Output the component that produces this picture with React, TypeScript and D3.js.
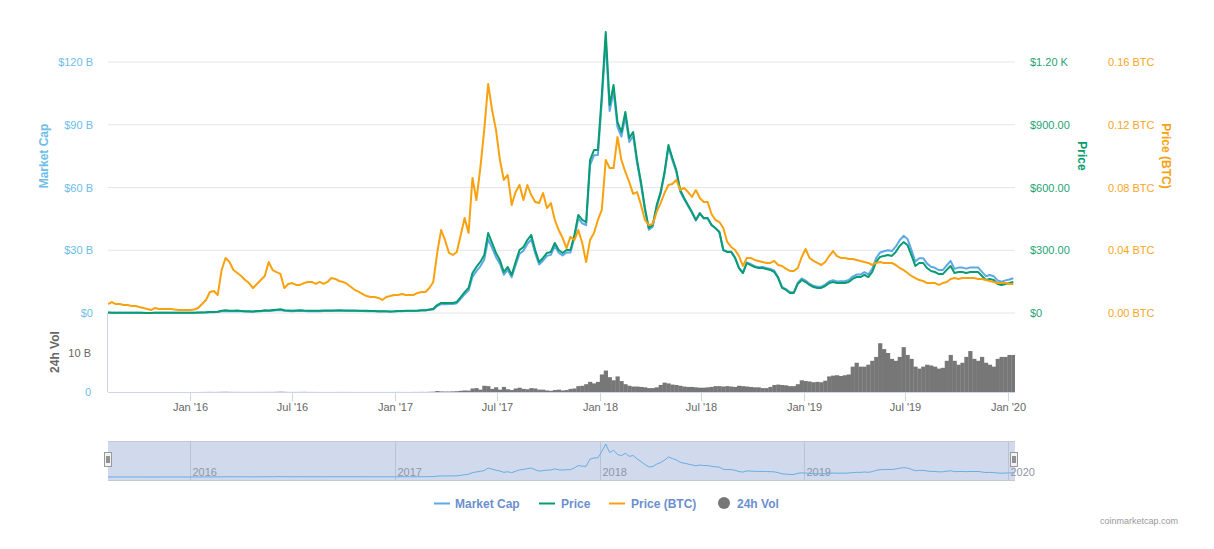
import React from 'react';
import * as d3 from 'd3';

// Weekly samples starting 2015-08-07
const START_DATE = '2015-08-07';

const priceUsd = [
  2.8, 1.2, 1.4, 1.2, 1.3, 1.2, 0.9, 0.9, 0.9, 0.7,
  0.6, 0.5, 1.0, 0.9, 0.9, 0.9, 0.9, 0.9, 0.9, 0.9,
  0.9, 0.95, 1.0, 1.8, 2.5, 3.5, 5, 4.5, 6.2, 11,
  13, 11, 11, 11.5, 10, 8.5, 8, 7.5, 9.5, 10,
  13, 12, 14, 16, 17.5, 13, 12, 11, 12, 13,
  11.5, 10.5, 11, 11, 11, 11.5, 12, 12, 12.5, 13,
  12.5, 12, 12, 11.5, 11, 11, 10.5, 10, 9.5, 8.5,
  8, 7.9, 7.5, 8, 10, 10, 10.5, 10.5, 11, 11.5,
  13, 13, 17, 20, 38, 48, 48, 48, 48, 53,
  76, 100, 120, 191, 220, 244, 277, 382, 335, 287,
  253, 196, 220, 182, 244, 301, 315, 349, 373, 301,
  244, 263, 287, 292, 335, 301, 287, 301, 301, 373,
  469, 445, 435, 731, 779, 779, 1042, 1343, 994, 1090,
  913, 865, 961, 837, 865, 731, 626, 502, 406, 421,
  516, 578, 674, 803, 741, 684, 588, 550, 516, 483,
  445, 478, 454, 454, 421, 406, 387, 301, 292, 292,
  263, 215, 191, 239, 229, 220, 215, 215, 210, 206,
  196, 167, 120, 110, 96, 96, 139, 158, 148, 134,
  124, 120, 120, 129, 143, 148, 143, 143, 143, 148,
  163, 172, 172, 182, 172, 196, 244, 268, 273, 277,
  273, 292, 320, 339, 325, 277, 225, 239, 239, 215,
  201, 196, 186, 186, 206, 225, 191, 196, 196, 191,
  196, 196, 196, 177, 158, 163, 158, 139, 134, 139,
  143, 148,
];

const marketCapB = [
  0.20, 0.09, 0.10, 0.09, 0.09, 0.09, 0.07, 0.07, 0.07, 0.05,
  0.04, 0.04, 0.07, 0.07, 0.07, 0.07, 0.07, 0.07, 0.07, 0.07,
  0.07, 0.07, 0.08, 0.14, 0.19, 0.27, 0.39, 0.35, 0.48, 0.86,
  1.01, 0.86, 0.86, 0.90, 0.78, 0.67, 0.63, 0.59, 0.75, 0.79,
  1.03, 0.95, 1.11, 1.27, 1.39, 1.04, 0.96, 0.88, 0.96, 1.04,
  0.93, 0.85, 0.89, 0.89, 0.89, 0.94, 0.98, 0.98, 1.02, 1.07,
  1.03, 0.99, 0.99, 0.95, 0.91, 0.92, 0.88, 0.84, 0.80, 0.72,
  0.68, 0.67, 0.64, 0.69, 0.86, 0.87, 0.91, 0.91, 0.96, 1.00,
  1.14, 1.14, 1.49, 1.67, 3.3, 4.2, 4.2, 4.3, 4.3, 4.7,
  6.8, 9.0, 10.8, 17.3, 20.0, 22.3, 25.5, 35.3, 31.1, 26.7,
  23.6, 18.3, 20.6, 17.1, 22.9, 28.3, 29.7, 33.0, 35.3, 28.5,
  23.2, 25.0, 27.3, 27.8, 32.0, 28.8, 27.5, 28.9, 28.9, 35.9,
  45.2, 42.9, 42.0, 70.7, 75.4, 75.5, 101.1, 130.4, 96.6, 106.0,
  88.9, 84.3, 93.8, 81.8, 84.6, 71.6, 61.3, 49.2, 39.8, 41.3,
  50.7, 56.9, 66.4, 79.2, 73.1, 67.6, 58.1, 54.4, 51.1, 47.9,
  44.2, 47.5, 45.2, 45.2, 42.0, 40.5, 38.7, 30.1, 29.3, 29.4,
  26.5, 21.7, 19.3, 24.2, 23.3, 22.4, 21.9, 22.0, 21.5, 21.1,
  20.2, 17.2, 12.4, 11.4, 9.9, 10.0, 14.5, 16.5, 15.5, 14.0,
  13.0, 12.6, 12.6, 13.6, 15.1, 15.7, 15.1, 15.2, 15.2, 15.8,
  17.4, 18.4, 18.4, 19.5, 18.5, 21.1, 26.3, 28.9, 29.5, 30.0,
  29.6, 31.7, 34.8, 36.9, 35.4, 30.2, 24.6, 26.2, 26.2, 23.6,
  22.1, 21.6, 20.5, 20.5, 22.7, 24.9, 21.1, 21.7, 21.7, 21.2,
  21.8, 21.8, 21.8, 19.7, 17.6, 18.2, 17.6, 15.5, 15.0, 15.6,
  16.0, 16.6,
];

const priceBtc = [
  0.0057, 0.0070, 0.0057, 0.0057, 0.0051, 0.0051, 0.0045, 0.0045, 0.0038, 0.0032,
  0.0026, 0.0019, 0.0032, 0.0026, 0.0026, 0.0026, 0.0026, 0.0022, 0.0019, 0.0019,
  0.0019, 0.0019, 0.0022, 0.0032, 0.0057, 0.0083, 0.0134, 0.0140, 0.0115, 0.0274,
  0.0351, 0.0325, 0.0274, 0.0255, 0.0236, 0.0210, 0.0191, 0.0159, 0.0185, 0.0210,
  0.0236, 0.0325, 0.0274, 0.0261, 0.0249, 0.0159, 0.0185, 0.0191, 0.0179, 0.0179,
  0.0191, 0.0198, 0.0198, 0.0185, 0.0198, 0.0185, 0.0198, 0.0223, 0.0217, 0.0204,
  0.0198, 0.0185, 0.0166, 0.0147, 0.0134, 0.0121, 0.0108, 0.0102, 0.0102, 0.0096,
  0.0083, 0.0102, 0.0108, 0.0115, 0.0115, 0.0121, 0.0115, 0.0115, 0.0115, 0.0128,
  0.0134, 0.0134, 0.0159, 0.0198, 0.0383, 0.0529, 0.0465, 0.0383, 0.0370, 0.0389,
  0.0497, 0.0606, 0.0510, 0.0861, 0.0720, 0.0924, 0.1167, 0.1460, 0.1294, 0.1167,
  0.0975, 0.0848, 0.0880, 0.0689, 0.0771, 0.0816, 0.0720, 0.0816, 0.0752, 0.0708,
  0.0701, 0.0765, 0.0669, 0.0701, 0.0593, 0.0529, 0.0478, 0.0414, 0.0485, 0.0465,
  0.0529, 0.0446, 0.0325, 0.0465, 0.0510, 0.0593, 0.0657, 0.0975, 0.0924, 0.0924,
  0.1122, 0.0975, 0.0899, 0.0835, 0.0759, 0.0771, 0.0689, 0.0593, 0.0561, 0.0567,
  0.0644, 0.0701, 0.0765, 0.0816, 0.0822, 0.0848, 0.0784, 0.0797, 0.0771, 0.0740,
  0.0784, 0.0733, 0.0708, 0.0708, 0.0631, 0.0593, 0.0580, 0.0542, 0.0453, 0.0421,
  0.0402, 0.0363, 0.0300, 0.0351, 0.0351, 0.0338, 0.0332, 0.0325, 0.0319, 0.0319,
  0.0332, 0.0306, 0.0300, 0.0281, 0.0268, 0.0268, 0.0287, 0.0357, 0.0408, 0.0351,
  0.0332, 0.0319, 0.0306, 0.0325, 0.0363, 0.0395, 0.0363, 0.0351, 0.0351, 0.0344,
  0.0344, 0.0338, 0.0332, 0.0325, 0.0319, 0.0306, 0.0319, 0.0325, 0.0319, 0.0319,
  0.0319, 0.0306, 0.0287, 0.0274, 0.0255, 0.0236, 0.0223, 0.0210, 0.0204, 0.0191,
  0.0191, 0.0191, 0.0179, 0.0191, 0.0198, 0.0217, 0.0223, 0.0217, 0.0223, 0.0223,
  0.0223, 0.0223, 0.0217, 0.0217, 0.0210, 0.0204, 0.0198, 0.0191, 0.0191, 0.0191,
  0.0185, 0.0185,
];

const volumeB = [
  0.001, 0.001, 0.001, 0.001, 0.001, 0.001, 0.001, 0.001, 0.001, 0.001,
  0.001, 0.001, 0.001, 0.001, 0.001, 0.001, 0.001, 0.001, 0.001, 0.001,
  0.002, 0.002, 0.003, 0.005, 0.01, 0.02, 0.03, 0.02, 0.03, 0.05,
  0.06, 0.04, 0.03, 0.03, 0.02, 0.02, 0.02, 0.02, 0.02, 0.02,
  0.03, 0.03, 0.03, 0.05, 0.08, 0.05, 0.02, 0.02, 0.02, 0.03,
  0.04, 0.02, 0.02, 0.01, 0.01, 0.01, 0.01, 0.01, 0.01, 0.02,
  0.02, 0.01, 0.01, 0.01, 0.01, 0.01, 0.01, 0.01, 0.01, 0.01,
  0.01, 0.01, 0.01, 0.01, 0.02, 0.01, 0.01, 0.01, 0.02, 0.02,
  0.03, 0.02, 0.05, 0.08, 0.25, 0.15, 0.12, 0.12, 0.15, 0.2,
  0.3, 0.4, 0.35, 0.9, 1.0, 0.6, 1.6, 1.5, 0.8, 1.2,
  0.6, 1.3, 0.7, 0.5, 0.9, 1.1, 0.8, 0.7, 1.0, 0.9,
  0.6, 0.6, 0.4, 0.3, 0.5, 0.6, 0.4, 0.5, 0.8, 0.9,
  1.5, 1.6, 2.0, 2.6, 2.2, 2.6, 4.5, 5.5, 3.8, 3.0,
  4.0, 2.8, 2.0, 1.6, 1.4, 1.4, 1.3, 1.2, 1.0, 1.0,
  1.2, 1.8, 2.4, 2.2, 1.9, 1.8, 1.6, 1.4, 1.3, 1.3,
  1.2, 1.1, 1.1, 1.2, 1.3, 1.5, 1.5, 1.4, 1.5, 1.4,
  1.3, 1.6, 1.5, 1.4, 1.3, 1.2, 1.2, 1.0, 1.0, 1.3,
  1.8, 1.9, 1.8, 1.7, 1.5, 1.5, 2.0, 3.0, 2.8, 2.7,
  2.5, 2.6, 2.5, 2.9, 4.0, 4.2, 4.3, 4.1, 4.3, 4.5,
  6.5, 7.5, 6.5, 6.5, 7.0, 8.0, 9.0, 12.5, 11.0, 10.0,
  8.5, 8.0, 9.0, 11.5, 9.5, 8.5, 6.5, 6.0, 6.5, 7.0,
  6.8, 6.5, 6.0, 6.2, 8.0, 9.5, 8.0, 7.0, 7.5, 9.0,
  10.5, 8.5, 8.0, 9.0, 7.5, 7.0, 6.5, 8.5, 9.0, 9.0,
  9.5, 9.5,
];

const xTickDates = ['2016-01-01', '2016-07-01', '2017-01-01', '2017-07-01', '2018-01-01', '2018-07-01', '2019-01-01', '2019-07-01', '2020-01-01'];
const xTickLabels = ["Jan '16", "Jul '16", "Jan '17", "Jul '17", "Jan '18", "Jul '18", "Jan '19", "Jul '19", "Jan '20"];
const mcapTicks = [0, 30, 60, 90, 120];
const mcapTickLabels = ['$0', '$30 B', '$60 B', '$90 B', '$120 B'];
const priceTicks = [0, 300, 600, 900, 1200];
const priceTickLabels = ['$0', '$300.00', '$600.00', '$900.00', '$1.20 K'];
const btcTicks = [0, 0.04, 0.08, 0.12, 0.16];
const btcTickLabels = ['0.00 BTC', '0.04 BTC', '0.08 BTC', '0.12 BTC', '0.16 BTC'];
const volTicks = [0, 10];
const volTickLabels = ['0', '10 B'];
const navYearDates = ['2016-01-01', '2017-01-01', '2018-01-01', '2019-01-01', '2020-01-01'];
const navYearLabels = ['2016', '2017', '2018', '2019', '2020'];
const legendItems = ['Market Cap', 'Price', 'Price (BTC)', '24h Vol'];

const C_MCAP = '#5fa8e6';
const C_PRICE = '#079c72';
const C_BTC = '#f9a10f';
const C_VOL = '#777777';
const FONT = '"Liberation Sans", Arial, Helvetica, sans-serif';

export default function App() {
  const start = new Date(START_DATE + 'T00:00:00Z');
  const dates = priceUsd.map((_, i) => d3.utcDay.offset(start, i * 7));

  const L = 108, R = 1015;
  const x = d3.scaleUtc().domain([start, new Date('2020-01-13T00:00:00Z')]).range([L, R]);
  const yM = d3.scaleLinear().domain([0, 120]).range([313, 62]);
  const yP = d3.scaleLinear().domain([0, 1200]).range([313, 62]);
  const yB = d3.scaleLinear().domain([0, 0.16]).range([313, 62]);
  const yV = d3.scaleLinear().domain([0, 10]).range([392, 353]);
  const navTop = 441, navBot = 481;
  const yN = d3.scaleLinear().domain([0, d3.max(marketCapB) as number]).range([477, 444]);

  const mkLine = (vals: number[], y: (v: number) => number) =>
    d3.line<number>().x((_, i) => x(dates[i])).y((v) => y(v))(vals) || '';

  const weekPx = x(d3.utcDay.offset(start, 7)) - x(start);

  return (
    <svg width={1214} height={549} style={{ position: 'absolute', left: 0, top: 0, fontFamily: FONT }}>
      <rect x={0} y={0} width={1214} height={549} fill="#ffffff" />
      {/* grid */}
      {mcapTicks.map((t) => (
        <line key={'g' + t} x1={L} x2={R} y1={yM(t)} y2={yM(t)} stroke="#e6e6e6" strokeWidth={1} />
      ))}
      {/* left axis labels */}
      {mcapTicks.map((t, i) => (
        <text key={'ml' + t} x={93} y={yM(t) + 4} textAnchor="end" fontSize={11} fill="#6cbde9">{mcapTickLabels[i]}</text>
      ))}
      <text transform="translate(48,156) rotate(-90)" textAnchor="middle" fontSize={12} fontWeight="bold" fill="#6cbde9">Market Cap</text>
      {/* right axis labels */}
      {priceTicks.map((t, i) => (
        <text key={'pl' + t} x={1030} y={yP(t) + 4} textAnchor="start" fontSize={11} fill="#1fa374">{priceTickLabels[i]}</text>
      ))}
      <text transform="translate(1078,156) rotate(90)" textAnchor="middle" fontSize={12} fontWeight="bold" fill="#079c72">Price</text>
      {btcTicks.map((t, i) => (
        <text key={'bl' + t} x={1108} y={yB(t) + 4} textAnchor="start" fontSize={11} fill="#f9a51e">{btcTickLabels[i]}</text>
      ))}
      <text transform="translate(1162,156) rotate(90)" textAnchor="middle" fontSize={12} fontWeight="bold" fill="#f9a10f">Price (BTC)</text>

      {/* volume pane */}
      <clipPath id="plotclip"><rect x={L} y={20} width={R - L} height={380} /></clipPath>
      <g clipPath="url(#plotclip)">
        {volumeB.map((v, i) => {
          const cx = x(dates[i]);
          return (
            <rect key={'v' + i} x={cx - weekPx / 2} y={yV(v)} width={weekPx + 0.3} height={Math.max(0, yV(0) - yV(v))} fill={C_VOL} />
          );
        })}
      </g>
      <line x1={107.5} x2={107.5} y1={313} y2={392} stroke="#ccd6eb" strokeWidth={1} />
      <line x1={L} x2={R} y1={392.5} y2={392.5} stroke="#ccd6eb" strokeWidth={1} />
      {xTickDates.map((d, i) => {
        const tx = Math.round(x(new Date(d + 'T00:00:00Z'))) + 0.5;
        return (
          <g key={'xt' + d}>
            <line x1={tx} x2={tx} y1={392} y2={401} stroke="#ccd6eb" strokeWidth={1} />
            <text x={tx} y={411} textAnchor="middle" fontSize={11} fill="#666666">{xTickLabels[i]}</text>
          </g>
        );
      })}
      {volTicks.map((t, i) => (
        <text key={'vl' + t} x={91} y={yV(t) + 4} textAnchor="end" fontSize={11} fill={i === 0 ? '#6cbde9' : '#666666'}>{volTickLabels[i]}</text>
      ))}
      <text transform="translate(59,352) rotate(-90)" textAnchor="middle" fontSize={12} fontWeight="bold" fill="#666666">24h Vol</text>

      {/* lines */}
      <g clipPath="url(#plotclip)">
        <path d={mkLine(marketCapB, yM)} fill="none" stroke={C_MCAP} strokeWidth={2} strokeLinejoin="round" />
        <path d={mkLine(priceUsd, yP)} fill="none" stroke={C_PRICE} strokeWidth={2} strokeLinejoin="round" />
        <path d={mkLine(priceBtc, yB)} fill="none" stroke={C_BTC} strokeWidth={2} strokeLinejoin="round" />
      </g>

      {/* navigator */}
      <rect x={L} y={navTop} width={R - L} height={navBot - navTop} fill="#d1d9ec" />
      {navYearDates.map((d, i) => {
        const tx = Math.round(x(new Date(d + 'T00:00:00Z'))) + 0.5;
        return (
          <g key={'ny' + d}>
            <line x1={tx} x2={tx} y1={navTop} y2={navBot} stroke="#b9c2d6" strokeWidth={1} />
            <text x={tx + 2} y={476} textAnchor="start" fontSize={11} fill="#8f97a8">{navYearLabels[i]}</text>
          </g>
        );
      })}
      <path d={d3.line<number>().x((_, i) => x(dates[i])).y((v) => yN(v))(marketCapB) || ''} fill="none" stroke="#68ade6" strokeWidth={1} />
      <line x1={L} x2={R} y1={navTop + 0.5} y2={navTop + 0.5} stroke="#c4c8d0" strokeWidth={1} />
      <line x1={L} x2={R} y1={navBot - 0.5} y2={navBot - 0.5} stroke="#c4c8d0" strokeWidth={1} />
      {[L, R - 1].map((hx, i) => (
        <g key={'h' + i}>
          <rect x={hx - 3.5} y={452.5} width={7} height={14} fill="#f2f2f2" stroke="#999999" strokeWidth={1} />
          <line x1={hx - 1} x2={hx - 1} y1={456} y2={463} stroke="#333" strokeWidth={1} />
          <line x1={hx + 1} x2={hx + 1} y1={456} y2={463} stroke="#333" strokeWidth={1} />
        </g>
      ))}

      {/* legend */}
      <g fontSize={12} fontWeight="bold" fill="#6b8fcf">
        <line x1={434} x2={450} y1={503.5} y2={503.5} stroke={C_MCAP} strokeWidth={2} />
        <text x={455} y={508}>{legendItems[0]}</text>
        <line x1={539} x2={555} y1={503.5} y2={503.5} stroke={C_PRICE} strokeWidth={2} />
        <text x={561} y={508}>{legendItems[1]}</text>
        <line x1={609} x2={625} y1={503.5} y2={503.5} stroke={C_BTC} strokeWidth={2} />
        <text x={631} y={508}>{legendItems[2]}</text>
        <circle cx={724} cy={503} r={6} fill={C_VOL} />
        <text x={737} y={508}>{legendItems[3]}</text>
      </g>
      <text x={1178} y={524} textAnchor="end" fontSize={9} fill="#999999">coinmarketcap.com</text>
    </svg>
  );
}
